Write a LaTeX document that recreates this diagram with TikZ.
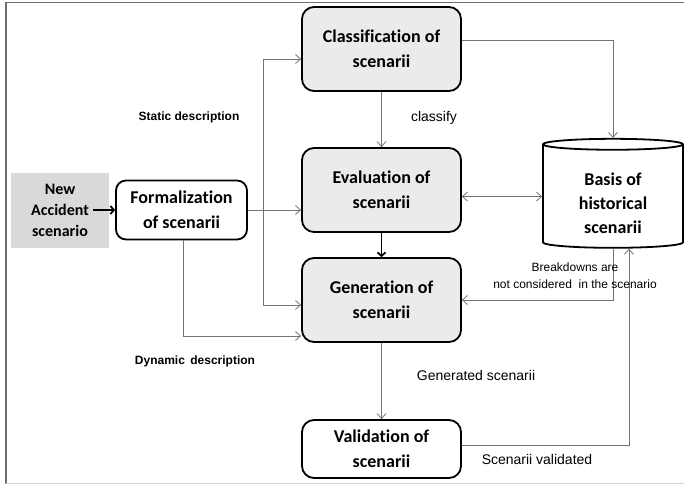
\documentclass[tikz,border=0pt]{standalone}
\usepackage{fontspec}
\setmainfont{Liberation Sans}
\newfontfamily\boxfont[Ligatures=NoCommon]{Carlito}
\usetikzlibrary{arrows.meta,shapes.geometric}
\definecolor{boxgray}{RGB}{235,235,235}
\definecolor{inputgray}{RGB}{217,217,217}
\definecolor{linegray}{RGB}{115,115,115}
\definecolor{framegray}{RGB}{110,110,110}

\begin{document}
\begin{tikzpicture}[x=1pt, y=-1pt,
    proc/.style={draw, line width=1.8pt, rounded corners=12pt, align=center, inner sep=0pt,
        font=\boxfont\bfseries\fontsize{18}{25}\selectfont, minimum width=159pt, minimum height=84pt},
    graybox/.style={proc, fill=boxgray},
    conn/.style={draw=linegray, line width=0.8pt, -{Straight Barb[length=5pt,width=9pt]}},
    boldarrow/.style={line width=1.8pt, -{Straight Barb[length=3.5pt,width=8pt]}},
    lbl/.style={font=\fontsize{14}{16}\selectfont},
    desc/.style={font=\bfseries\fontsize{12}{14}\selectfont}]
\useasboundingbox (0,0) rectangle (684,484);

% frame
\draw[framegray, line width=1.5pt] (684,2.5) -- (6,2.5) -- (6,484);
\draw[gray!35, line width=1pt] (6,483) -- (684,483);

% boxes
\node[fill=inputgray, minimum width=98pt, minimum height=75pt, align=center,
    font=\boxfont\bfseries\fontsize{16}{21}\selectfont] (newacc) at (60,210) {New\\Accident\\scenario};
\node[proc, minimum width=131pt, minimum height=59pt, rounded corners=10pt] (formal) at (181.5,210) {Formalization\\of scenarii};
\node[graybox] (classif) at (381.5,49) {Classification of\\scenarii};
\node[graybox] (evalu) at (381.5,190) {Evaluation of\\scenarii};
\node[graybox] (gener) at (381.5,300) {Generation of\\scenarii};
\node[proc, minimum height=58pt] (valid) at (381.5,449) {Validation of\\scenarii};
\node[draw, line width=1.8pt, cylinder, shape border rotate=90, aspect=0.16,
    minimum width=140pt, minimum height=109pt, align=center, inner sep=0pt,
    font=\boxfont\bfseries\fontsize{18}{24}\selectfont] (basis) at (613,196.5)
    {\rule{0pt}{27pt}Basis of\\historical\\scenarii};

% connectors
\coordinate (split) at (263,210);
\draw[boldarrow] ([xshift=-16pt]newacc.east) -- (formal.west);
\draw[conn] (formal.east) -- (evalu.west |- formal.east);
\draw[conn] (split) |- ([yshift=-10pt]classif.west);
\draw[conn] (split) |- ([yshift=-5pt]gener.west);
\draw[conn] ([xshift=2pt]formal.south) |- ([yshift=-36pt]gener.west);
\draw[conn] (classif.south) -- (evalu.north);
\draw[conn] ([yshift=9pt]classif.east) -| (basis.north);
\draw[conn, {Straight Barb[length=5pt,width=9pt]}-{Straight Barb[length=5pt,width=9pt]}] (evalu.east |- basis.west) -- (basis.west);
\draw[boldarrow] (evalu.south) -- (gener.north);
\draw[conn] (basis.south) |- (gener.east);
\draw[conn] (gener.south) -- (valid.north);
\draw[conn] ([yshift=4pt]valid.east) -| ([xshift=16pt]basis.south);

% labels
\node[desc] (staticlbl) at (189,117) {Static description};
\node[desc] (dynlbl) at (195,361) {Dynamic\, description};
\node[lbl] (classifylbl) at (434,118) {classify};
\node[lbl] (genlbl) at (476,375) {Generated scenarii};
\node[lbl] (validlbl) at (537,459) {Scenarii validated};
\node[align=center, font=\fontsize{12}{17}\selectfont] (breaklbl) at (575,276) {Breakdowns are\\not considered\ \ in the scenario};

\end{tikzpicture}
\end{document}
